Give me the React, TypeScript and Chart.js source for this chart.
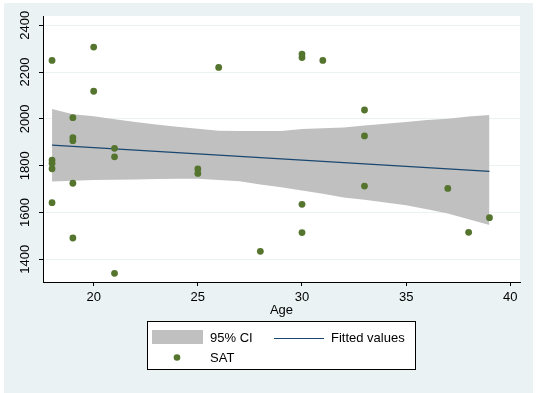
import React, { useEffect, useRef } from "react";
import { Chart, registerables } from "chart.js";

Chart.register(...registerables);

// SAT scatter data (Age, SAT)
const satAges = [18, 18, 18, 18, 18, 19, 19, 19, 19, 19, 20, 20, 21, 21, 21, 25, 25, 26, 28, 30, 30, 30, 30, 31, 33, 33, 33, 37, 38, 39];
const satValues = [2250, 1824, 1810, 1787, 1642, 2005, 1920, 1907, 1725, 1491, 2307, 2118, 1874, 1838, 1340, 1786, 1767, 2220, 1434, 2277, 2262, 1635, 1514, 2250, 2038, 1927, 1713, 1703, 1515, 1578];

// Fitted values (linear fit) at the ends of the age range
const fitAges = [18, 39];
const fitValues = [1888, 1776];

// 95% CI band
const ciAges = [18, 19, 20, 21, 22, 23, 24, 25, 26, 27, 28, 29, 30, 31, 32, 33, 34, 35, 36, 37, 38, 39];
const ciUpper = [2042, 2020, 2011, 1998, 1987, 1976, 1966, 1958, 1949, 1948, 1948, 1948, 1957, 1960, 1963, 1972, 1979, 1987, 1995, 2001, 2010, 2017];
const ciLower = [1732, 1736, 1739, 1740, 1741, 1743, 1744, 1744, 1739, 1733, 1720, 1708, 1694, 1680, 1664, 1654, 1643, 1631, 1614, 1596, 1571, 1547];

const xTicks = [20, 25, 30, 35, 40];
const yTicks = [1400, 1600, 1800, 2000, 2200, 2400];

const FONT = "'Liberation Sans', Arial, sans-serif";
const BG = "#EAF2F3";
const GREEN = "#55752F";
const NAVY = "#1A476F";
const GRAY = "#C0C0C0";

const pts = (xs: number[], ys: number[]) => xs.map((x, i) => ({ x, y: ys[i] }));

const backgroundPlugin = {
  id: "stataBg",
  beforeDraw(chart: any) {
    const { ctx, chartArea } = chart;
    ctx.save();
    ctx.fillStyle = "#ffffff";
    ctx.fillRect(0, 0, chart.width, chart.height);
    ctx.fillStyle = BG;
    ctx.fillRect(4, 3, 529, 390);
    ctx.fillStyle = "#ffffff";
    ctx.fillRect(chartArea.left, chartArea.top, chartArea.right - chartArea.left, chartArea.bottom - chartArea.top);
    ctx.restore();
  },
  afterDraw(chart: any) {
    const { ctx } = chart;
    ctx.save();
    // legend box
    ctx.fillStyle = "#ffffff";
    ctx.fillRect(147, 321, 268, 48);
    ctx.strokeStyle = "#000000";
    ctx.lineWidth = 1;
    ctx.strokeRect(147.5, 321.5, 268, 48);
    // CI swatch
    ctx.fillStyle = GRAY;
    ctx.fillRect(152, 330, 51, 14);
    // fitted line swatch
    ctx.strokeStyle = NAVY;
    ctx.beginPath();
    ctx.moveTo(274, 338.5);
    ctx.lineTo(324, 338.5);
    ctx.stroke();
    // SAT marker
    ctx.fillStyle = GREEN;
    ctx.beginPath();
    ctx.arc(177, 357.5, 3.3, 0, Math.PI * 2);
    ctx.fill();
    // texts
    ctx.fillStyle = "#000000";
    ctx.font = `13px ${FONT}`;
    ctx.textBaseline = "middle";
    ctx.textAlign = "left";
    ctx.fillText("95% CI", 210, 338);
    ctx.fillText("Fitted values", 331, 338);
    ctx.fillText("SAT", 210, 358);
    ctx.restore();
  },
};

export default function App() {
  const ref = useRef<HTMLCanvasElement | null>(null);
  useEffect(() => {
    if (!ref.current) return;
    const chart = new Chart(ref.current, {
      type: "line",
      data: {
        datasets: [
          {
            type: "scatter",
            label: "SAT",
            data: pts(satAges, satValues),
            backgroundColor: GREEN,
            borderColor: GREEN,
            pointRadius: 3.4,
            pointBorderWidth: 0,
            showLine: false,
            order: 0,
          } as any,
          {
            type: "line",
            label: "Fitted values",
            data: pts(fitAges, fitValues),
            borderColor: NAVY,
            borderWidth: 1.2,
            pointRadius: 0,
            fill: false,
            order: 1,
          },
          {
            type: "line",
            label: "95% CI upper",
            data: pts(ciAges, ciUpper),
            borderColor: GRAY,
            borderWidth: 0,
            backgroundColor: GRAY,
            pointRadius: 0,
            fill: "+1",
            order: 2,
          },
          {
            type: "line",
            label: "95% CI lower",
            data: pts(ciAges, ciLower),
            borderColor: GRAY,
            borderWidth: 0,
            backgroundColor: GRAY,
            pointRadius: 0,
            fill: false,
            order: 3,
          },
        ],
      },
      options: {
        responsive: false,
        animation: false,
        layout: { padding: { left: 0, top: 16, right: 17, bottom: 0 } },
        plugins: { legend: { display: false }, tooltip: { enabled: false } },
        scales: {
          x: {
            type: "linear",
            min: 17.566,
            max: 40.466,
            afterBuildTicks: (scale: any) => {
              scale.ticks = xTicks.map((v) => ({ value: v }));
            },
            afterFit: (scale: any) => {
              scale.height = 111;
            },
            ticks: {
              color: "#000",
              font: { family: FONT, size: 13 },
              padding: 4,
              maxRotation: 0,
              callback: (v: any) => String(v),
            },
            grid: { drawOnChartArea: false, tickLength: 4, tickColor: "#000", color: "#000" },
            border: { color: "#000", width: 1 },
            title: {
              display: true,
              text: "Age",
              color: "#000",
              font: { family: FONT, size: 13 },
              padding: { top: 0, bottom: 75 },
            },
          },
          y: {
            type: "linear",
            min: 1302.9,
            max: 2439.7,
            afterBuildTicks: (scale: any) => {
              scale.ticks = yTicks.map((v) => ({ value: v }));
            },
            afterFit: (scale: any) => {
              scale.width = 43;
            },
            ticks: {
              color: "#000",
              font: { family: FONT, size: 13 },
              minRotation: 90,
              maxRotation: 90,
              crossAlign: "center",
              padding: -1,
              callback: (v: any) => String(v),
            },
            grid: { color: BG, lineWidth: 1, tickLength: 4, tickColor: "#000" },
            border: { color: "#000", width: 1 },
          },
        },
      },
      plugins: [backgroundPlugin],
    });
    return () => chart.destroy();
  }, []);
  return (
    <div style={{ position: "fixed", left: 0, top: 0, width: 537, height: 393 }}>
      <canvas ref={ref} width={537} height={393} style={{ width: 537, height: 393 }} />
    </div>
  );
}
